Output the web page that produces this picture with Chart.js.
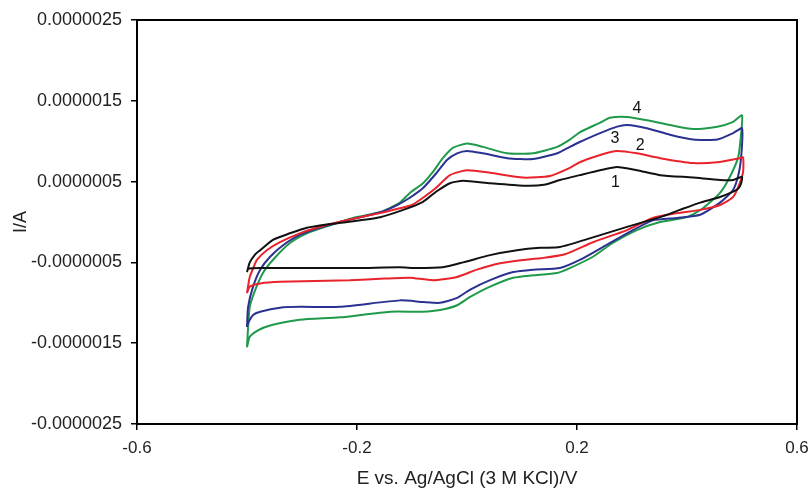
<!DOCTYPE html>
<html>
<head>
<meta charset="utf-8">
<script src="https://cdn.jsdelivr.net/npm/chart.js@4.4.1/dist/chart.umd.min.js"></script>
<style>
  html, body { margin: 0; padding: 0; background: #fff; }
  canvas { display: block; }
</style>
</head>
<body>
<canvas id="cvChart" width="809" height="488"></canvas>
<script>
// potential (V) and current (microampere)
const curve1E = [-0.40, -0.395, -0.385, -0.376, -0.353, -0.322, -0.291, -0.255, -0.218, -0.158, -0.116, -0.080, -0.055, -0.031, -0.007, 0.042, 0.102, 0.140, 0.169, 0.205, 0.242, 0.273, 0.309, 0.351, 0.411, 0.460, 0.484, 0.500,
  0.498, 0.491, 0.460, 0.424, 0.387, 0.351, 0.291, 0.229, 0.169, 0.133, 0.091, 0.042, -0.007, -0.044, -0.091, -0.122, -0.200, -0.300, -0.376, -0.398, -0.40];
const curve1I = [-0.62, -0.50, -0.40, -0.35, -0.22, -0.14, -0.07, -0.03, 0.00, 0.06, 0.15, 0.25, 0.38, 0.48, 0.51, 0.48, 0.45, 0.46, 0.52, 0.58, 0.64, 0.68, 0.64, 0.58, 0.55, 0.52, 0.52, 0.56,
  0.47, 0.40, 0.31, 0.24, 0.15, 0.06, -0.06, -0.19, -0.31, -0.32, -0.35, -0.41, -0.50, -0.56, -0.57, -0.56, -0.57, -0.57, -0.57, -0.58, -0.62];

const curve2E = [-0.40, -0.397, -0.395, -0.388, -0.382, -0.364, -0.340, -0.304, -0.262, -0.213, -0.158, -0.122, -0.100, -0.080, -0.055, -0.031, 0.000, 0.042, 0.102, 0.151, 0.187, 0.205, 0.242, 0.273, 0.309, 0.351, 0.411, 0.455, 0.496, 0.502,
  0.502, 0.496, 0.484, 0.460, 0.424, 0.382, 0.338, 0.291, 0.229, 0.178, 0.133, 0.102, 0.060, 0.018, -0.018, -0.062, -0.104, -0.150, -0.213, -0.340, -0.376, -0.395, -0.40];
const curve2I = [-0.88, -0.75, -0.68, -0.56, -0.47, -0.35, -0.25, -0.14, -0.05, 0.03, 0.11, 0.17, 0.21, 0.30, 0.43, 0.58, 0.64, 0.61, 0.55, 0.57, 0.67, 0.74, 0.83, 0.88, 0.85, 0.79, 0.73, 0.74, 0.79, 0.80,
  0.62, 0.48, 0.31, 0.21, 0.15, 0.11, 0.05, -0.10, -0.25, -0.40, -0.45, -0.47, -0.51, -0.59, -0.68, -0.72, -0.69, -0.70, -0.72, -0.74, -0.76, -0.80, -0.88];

const curve3E = [-0.40, -0.398, -0.389, -0.376, -0.358, -0.335, -0.304, -0.262, -0.213, -0.158, -0.127, -0.104, -0.080, -0.055, -0.036, -0.018, 0.000, 0.029, 0.073, 0.120, 0.164, 0.187, 0.205, 0.242, 0.273, 0.291, 0.327, 0.369, 0.411, 0.455, 0.484, 0.500,
  0.499, 0.494, 0.484, 0.460, 0.424, 0.382, 0.338, 0.291, 0.247, 0.205, 0.169, 0.120, 0.084, 0.042, 0.005, -0.018, -0.049, -0.080, -0.122, -0.231, -0.304, -0.340, -0.376, -0.389, -0.398, -0.40];
const curve3I = [-1.30, -1.05, -0.80, -0.59, -0.43, -0.29, -0.16, -0.06, 0.03, 0.12, 0.21, 0.30, 0.42, 0.61, 0.77, 0.85, 0.88, 0.85, 0.79, 0.78, 0.85, 0.93, 0.99, 1.10, 1.18, 1.20, 1.16, 1.08, 1.02, 1.02, 1.10, 1.16,
  0.85, 0.60, 0.40, 0.24, 0.09, 0.05, 0.02, -0.14, -0.31, -0.47, -0.57, -0.59, -0.62, -0.72, -0.84, -0.94, -1.00, -0.99, -0.97, -1.05, -1.05, -1.06, -1.11, -1.15, -1.25, -1.30];

const curve4E = [-0.40, -0.398, -0.395, -0.385, -0.371, -0.353, -0.322, -0.291, -0.249, -0.207, -0.158, -0.122, -0.104, -0.080, -0.062, -0.044, -0.025, 0.000, 0.029, 0.073, 0.120, 0.164, 0.187, 0.205, 0.242, 0.260, 0.291, 0.327, 0.369, 0.411, 0.455, 0.484, 0.500,
  0.497, 0.493, 0.478, 0.460, 0.429, 0.400, 0.351, 0.309, 0.265, 0.229, 0.187, 0.164, 0.120, 0.084, 0.042, 0.005, -0.018, -0.049, -0.080, -0.140, -0.231, -0.304, -0.358, -0.380, -0.395, -0.40];
const curve4I = [-1.55, -1.30, -1.05, -0.84, -0.63, -0.47, -0.26, -0.14, -0.04, 0.05, 0.12, 0.24, 0.36, 0.48, 0.62, 0.79, 0.92, 0.97, 0.93, 0.85, 0.85, 0.93, 1.02, 1.11, 1.23, 1.29, 1.30, 1.26, 1.20, 1.15, 1.18, 1.24, 1.32,
  1.00, 0.80, 0.56, 0.36, 0.17, 0.06, 0.00, -0.10, -0.26, -0.43, -0.57, -0.63, -0.66, -0.69, -0.80, -0.93, -1.03, -1.09, -1.11, -1.11, -1.18, -1.21, -1.28, -1.34, -1.42, -1.55];

const curveNames = ['1', '2', '3', '4'];
const curveColors = ['#111111', '#e8232b', '#2b3190', '#1f9a4a'];
const labelE = [0.270, 0.315, 0.269, 0.309];
const labelI = [0.49, 0.94, 1.03, 1.40];

const xTicks = [-0.6, -0.2, 0.2, 0.6];
const yTicks = [-2.5, -1.5, -0.5, 0.5, 1.5, 2.5];

const FONT = '"Liberation Sans", Arial, sans-serif';

function toPoints(es, is) {
  return es.map((e, k) => ({ x: e, y: is[k] }));
}

const loops = [[curve1E, curve1I], [curve2E, curve2I], [curve3E, curve3I], [curve4E, curve4I]];

const boxAndLabels = {
  id: 'boxAndLabels',
  afterDatasetsDraw(chart) {
    const { ctx, chartArea: a, scales: { x, y } } = chart;
    ctx.save();
    ctx.strokeStyle = '#000';
    ctx.lineWidth = 2;
    ctx.strokeRect(a.left, a.top, a.right - a.left, a.bottom - a.top);
    ctx.font = '16px ' + FONT;
    ctx.fillStyle = '#111';
    ctx.textAlign = 'center';
    ctx.textBaseline = 'middle';
    curveNames.forEach((n, k) => {
      ctx.fillText(n, x.getPixelForValue(labelE[k]), y.getPixelForValue(labelI[k]));
    });
    ctx.restore();
  }
};

new Chart(document.getElementById('cvChart').getContext('2d'), {
  type: 'scatter',
  data: {
    datasets: loops.map((l, k) => ({
      label: curveNames[k],
      data: toPoints(l[0], l[1]),
      showLine: true,
      borderColor: curveColors[k],
      borderWidth: 2,
      pointRadius: 0,
      tension: 0.2,
      fill: false
    }))
  },
  options: {
    responsive: false,
    animation: false,
    layout: { padding: { top: 20, right: 12, left: 0, bottom: 0 } },
    plugins: {
      legend: { display: false },
      tooltip: { enabled: false }
    },
    scales: {
      x: {
        type: 'linear',
        min: -0.6,
        max: 0.6,
        afterFit: s => { s.height = 64; s.paddingRight = 0; s.paddingLeft = 0; },
        afterBuildTicks: s => { s.ticks = xTicks.map(v => ({ value: v })); },
        border: { color: '#000', width: 2 },
        grid: { drawOnChartArea: false, drawTicks: true, tickLength: 6, color: '#000', lineWidth: 1.5 },
        ticks: {
          color: '#222',
          font: { family: FONT, size: 17 },
          padding: 8,
          maxRotation: 0,
          callback: v => String(Number(v.toFixed(1)))
        },
        title: {
          display: true,
          text: 'E vs. Ag/AgCl (3 M KCl)/V',
          color: '#222',
          font: { family: FONT, size: 19, lineHeight: 1 },
          padding: { top: 0, bottom: 0 }
        }
      },
      y: {
        type: 'linear',
        min: -2.5,
        max: 2.5,
        afterFit: s => { s.width = 137; },
        afterBuildTicks: s => { s.ticks = yTicks.map(v => ({ value: v })); },
        border: { color: '#000', width: 2 },
        grid: { drawOnChartArea: false, drawTicks: true, tickLength: 6, color: '#000', lineWidth: 1.5 },
        ticks: {
          color: '#222',
          font: { family: FONT, size: 18 },
          padding: 9,
          callback: v => (v * 1e-6).toFixed(7)
        },
        title: {
          display: true,
          text: 'I/A',
          color: '#222',
          font: { family: FONT, size: 18, lineHeight: 1 },
          padding: { top: 12, bottom: 0 }
        }
      }
    }
  },
  plugins: [boxAndLabels]
});
</script>
</body>
</html>
